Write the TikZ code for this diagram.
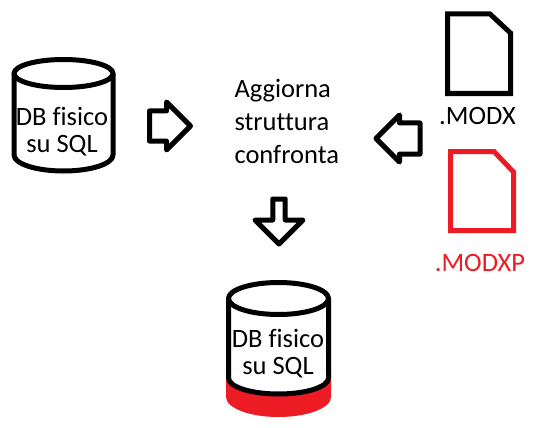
\documentclass[tikz,border=0pt]{standalone}
\usepackage{xcolor}
\usepackage{fontspec}
\setmainfont[RawFeature={-liga}]{Carlito}
\usetikzlibrary{shapes.arrows}
\definecolor{dbred}{RGB}{237,28,36}
\tikzset{
	heavy/.style={line width=5pt,line join=round},
	label/.style={inner sep=0pt,outer sep=0pt,font=\fontsize{26.5}{27}\selectfont},
	blockarrow/.style={draw,heavy,shape=single arrow,single arrow head indent=0pt,inner sep=0pt,outer sep=0pt,fill=white,anchor=tip}
}
\begin{document}
\begin{tikzpicture}[x=1pt,y=1pt]
	\useasboundingbox (0,0) rectangle (541,-428);
	% left database
	\draw[heavy] (14,-73.5) -- (14,-155) arc[start angle=180,end angle=360,x radius=49.5pt,y radius=16pt] -- (113,-73.5);
	\draw[heavy] (63.5,-73.5) ellipse (49.5pt and 14pt);
	\node[label,align=center] at (62,-132) (dbleft) {DB fisico\\su SQL};
	% right database, with red base
	\fill[dbred] (226,-375) -- (226,-397) arc[start angle=180,end angle=360,x radius=52.5pt,y radius=20pt] -- (331,-375) -- cycle;
	\draw[heavy,fill=white] (228.5,-298.5) -- (228.5,-378) arc[start angle=180,end angle=360,x radius=50pt,y radius=16pt] -- (328.5,-298.5) -- cycle;
	\draw[heavy,fill=white] (278.5,-298.5) ellipse (50pt and 16pt);
	\node[label,align=center] at (278,-354) (dbright) {DB fisico\\su SQL};
	% text in the middle
	\node[label,font=\fontsize{26.5}{33}\selectfont,align=left,anchor=west] at (234.5,-121) (task) {Aggiorna\\struttura\\confronta};
	% block arrows
	\node[blockarrow,minimum height=41pt,minimum width=48pt,inner ysep=9.5pt] at (190.5,-126) (arrowin) {};
	\node[blockarrow,shape border rotate=180,minimum height=44pt,minimum width=47pt,inner ysep=11.5pt] at (376,-138.5) (arrowfile) {};
	\node[blockarrow,shape border rotate=270,minimum height=45pt,minimum width=48pt,inner ysep=12pt] at (279,-244) (arrowout) {};
	% file icons
	\draw[heavy,line join=miter] (447.5,-14) -- (490,-14) -- (510.5,-33) -- (510.5,-93.5) -- (447.5,-93.5) -- cycle;
	\node[label,anchor=center] at (477.5,-116) (modx) {.MODX};
	\draw[heavy,line join=miter,dbred] (450.5,-151.5) -- (494,-151.5) -- (513.5,-172) -- (513.5,-230.5) -- (450.5,-230.5) -- cycle;
	\node[label,anchor=center,text=dbred] at (480,-263) (modxp) {.MODXP};
\end{tikzpicture}
\end{document}
